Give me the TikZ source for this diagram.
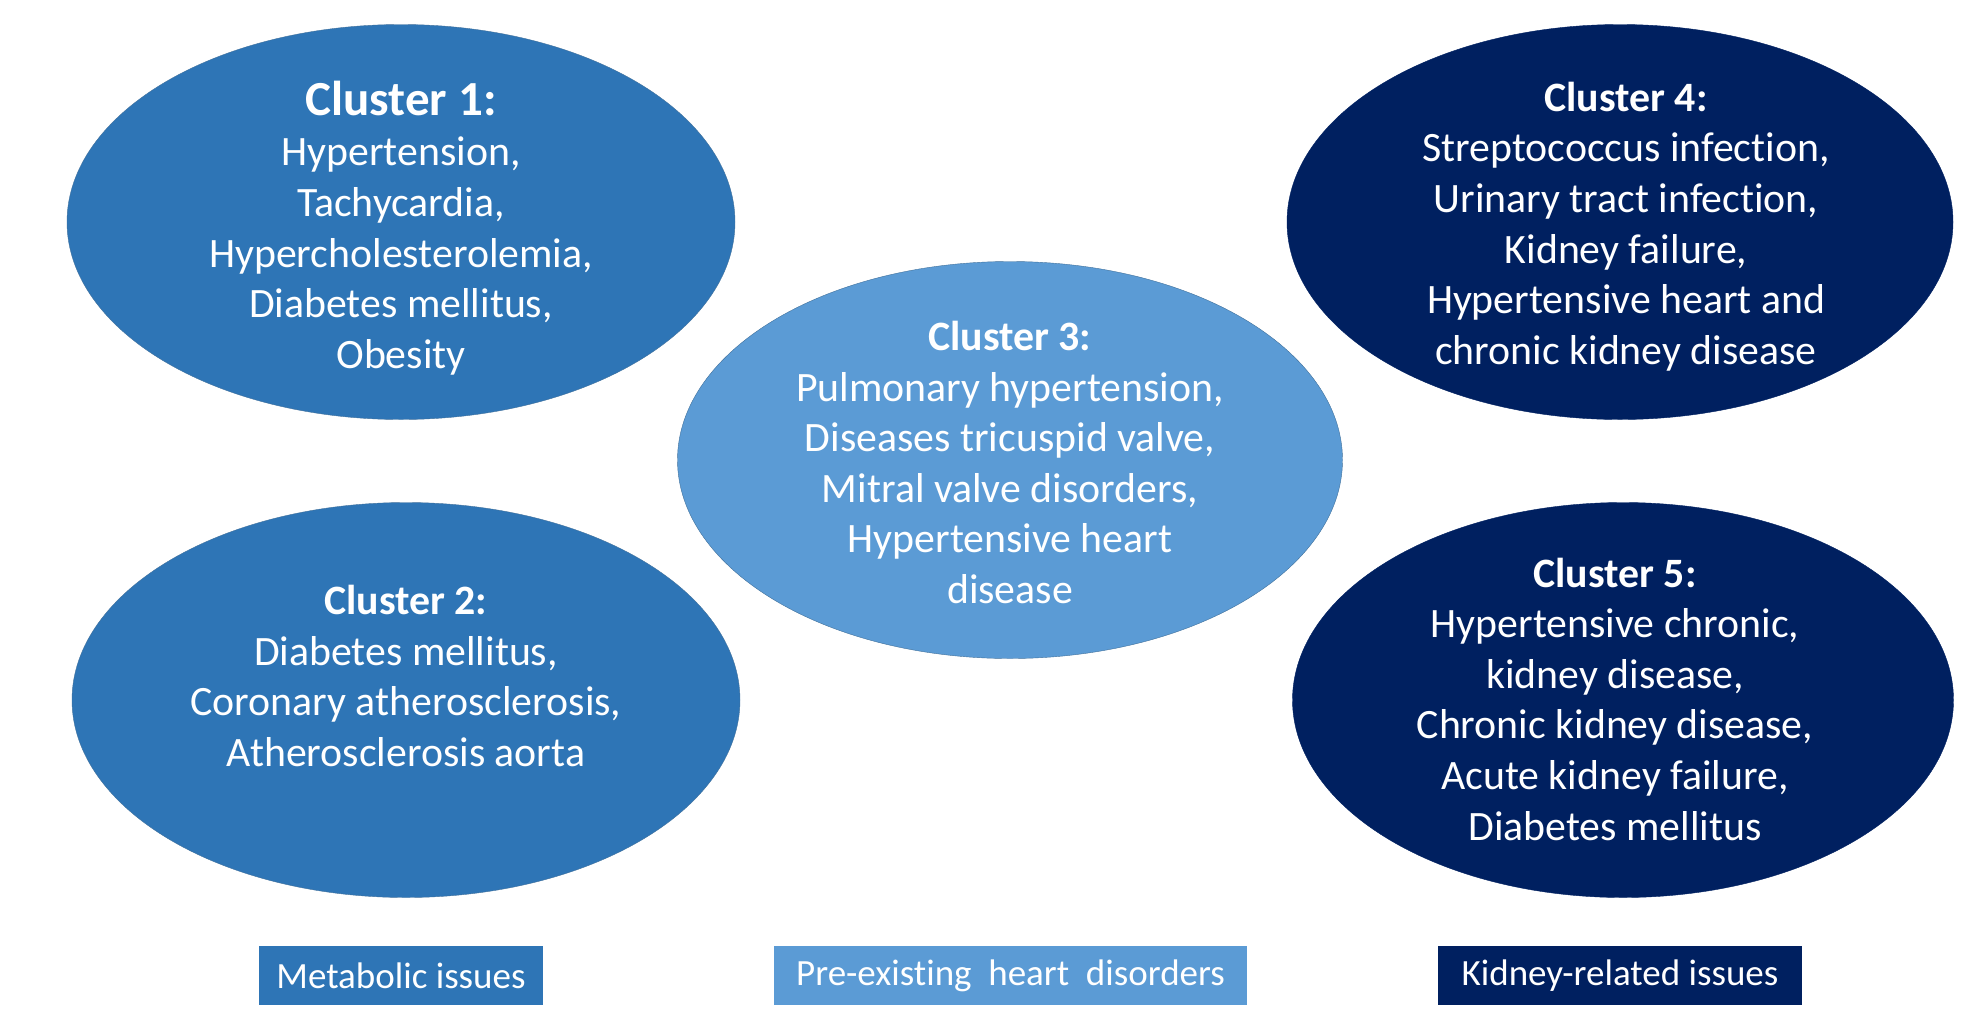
\documentclass[tikz,border=0pt]{standalone}
\usepackage{fontspec}
\setmainfont{Carlito}[Ligatures=NoCommon]
\usetikzlibrary{shapes.geometric}

\definecolor{metablue}{HTML}{2E75B6}
\definecolor{heartblue}{HTML}{5B9BD5}
\definecolor{kidneyblue}{HTML}{002060}
\definecolor{rimblue}{HTML}{41719C}

\begin{document}
\begin{tikzpicture}[x=1pt, y=-1pt,
blob/.style={ellipse, inner sep=0pt, minimum width=668pt, minimum height=395pt},
txt/.style={text=white, align=center, inner sep=0pt, font={\fontsize{41.8}{50.6}\selectfont}},
tag/.style={rectangle, inner sep=0pt, minimum height=59pt, text=white,
font={\fontsize{37}{44}\selectfont}},
]
\useasboundingbox (0,0) rectangle (1983,1018);

% cluster shapes
\path
(401,222) node[blob, fill=metablue, draw=rimblue] (c1) {}
(406,700) node[blob, fill=metablue, draw=rimblue] (c2) {}
(1010,460) node[blob, fill=heartblue, draw=rimblue, minimum width=665pt, minimum height=397pt] (c3) {}
(1620,222) node[blob, fill=kidneyblue, draw=kidneyblue, minimum width=666pt] (c4) {}
(1623,700) node[blob, fill=kidneyblue, draw=kidneyblue, minimum width=661pt] (c5) {}
;

% cluster texts
\path
(c1.center) node[txt, yshift=-6pt] (t1) {{\fontsize{49}{56}\selectfont\bfseries Cluster 1:}\\
Hypertension,\\ Tachycardia,\\ Hypercholesterolemia,\\ Diabetes mellitus,\\ Obesity}
(c2.center) node[txt, yshift=24pt] (t2) {\textbf{Cluster 2:}\\
Diabetes mellitus,\\ Coronary atherosclerosis,\\ Atherosclerosis aorta}
(c3.center) node[txt, yshift=-2.5pt] (t3) {\textbf{Cluster 3:}\\
Pulmonary hypertension,\\ Diseases tricuspid valve,\\ Mitral valve disorders,\\
Hypertensive heart\\ disease}
(c4.center) node[txt, xshift=6pt, yshift=-4.5pt] (t4) {\textbf{Cluster 4:}\\
Streptococcus infection,\\ Urinary tract infection,\\ Kidney failure,\\
Hypertensive heart and\\ chronic kidney disease}
(c5.center) node[txt, xshift=-8pt, yshift=1pt] (t5) {\textbf{Cluster 5:}\\
Hypertensive chronic,\\ kidney disease,\\ Chronic kidney disease,\\
Acute kidney failure,\\ Diabetes mellitus}
;

% group tags
\path
(401,975.5) node[tag, fill=metablue, minimum width=284pt] (g1) {Metabolic issues}
(1010.5,975.5) node[tag, fill=heartblue, minimum width=473pt] (g2) {Pre-existing\ \ heart\ \ disorders}
(1620,975.5) node[tag, fill=kidneyblue, minimum width=364pt] (g3) {Kidney-related issues}
;

\end{tikzpicture}
\end{document}
